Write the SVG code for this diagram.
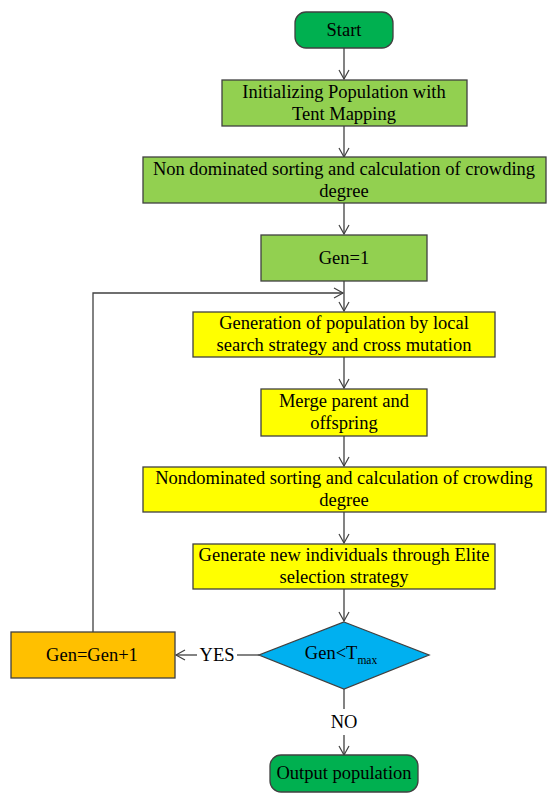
<svg xmlns="http://www.w3.org/2000/svg" width="550" height="799" viewBox="0 0 550 799">
<defs>
<marker id="arr" markerWidth="12" markerHeight="12" refX="10" refY="6" orient="auto" markerUnits="userSpaceOnUse">
<path d="M1,1 L10,6 L1,11" fill="none" stroke="#404040" stroke-width="1.2"/>
</marker>
<style>
text{font-family:"Liberation Serif","Times New Roman",serif;font-size:18.5px;fill:#000;text-anchor:middle;dominant-baseline:central}
.box{stroke:#404040;stroke-width:1.3}
.c{fill:none;stroke:#404040;stroke-width:1.3}
</style>
</defs>
<g id="connectors">
<line class="c" x1="344" y1="48" x2="344" y2="79" marker-end="url(#arr)"/>
<line class="c" x1="344" y1="126" x2="344" y2="157" marker-end="url(#arr)"/>
<line class="c" x1="344" y1="203" x2="344" y2="234" marker-end="url(#arr)"/>
<line class="c" x1="344" y1="281" x2="344" y2="311" marker-end="url(#arr)"/>
<polyline class="c" points="93,632 93,293 343,293" marker-end="url(#arr)"/>
<line class="c" x1="344" y1="357" x2="344" y2="388" marker-end="url(#arr)"/>
<line class="c" x1="344" y1="436" x2="344" y2="466" marker-end="url(#arr)"/>
<line class="c" x1="344" y1="512" x2="344" y2="543" marker-end="url(#arr)"/>
<line class="c" x1="344" y1="589" x2="344" y2="621" marker-end="url(#arr)"/>
<line class="c" x1="259" y1="655" x2="237" y2="655"/>
<line class="c" x1="197" y1="655" x2="176" y2="655" marker-end="url(#arr)"/>
<text x="217" y="655">YES</text>
<line class="c" x1="344" y1="689" x2="344" y2="709"/>
<line class="c" x1="344" y1="735" x2="344" y2="755" marker-end="url(#arr)"/>
<text x="344" y="722">NO</text>
</g>
<g id="start">
<rect class="box" x="295" y="12" width="98" height="36" rx="11" fill="#00B050"/>
<text x="344" y="30">Start</text>
</g>
<g id="init">
<rect class="box" x="222" y="80" width="245" height="46" fill="#92D050"/>
<text x="344" y="92">Initializing Population with</text>
<text x="344" y="114">Tent Mapping</text>
</g>
<g id="sort1">
<rect class="box" x="143" y="157" width="403" height="46" fill="#92D050"/>
<text x="344" y="169">Non dominated sorting and calculation of crowding</text>
<text x="344" y="191">degree</text>
</g>
<g id="gen1">
<rect class="box" x="261" y="235" width="166" height="46" fill="#92D050"/>
<text x="344" y="258">Gen=1</text>
</g>
<g id="generation">
<rect class="box" x="193" y="312" width="302" height="45" fill="#FFFF00"/>
<text x="344" y="323">Generation of population by local</text>
<text x="344" y="345">search strategy and cross mutation</text>
</g>
<g id="merge">
<rect class="box" x="261" y="389" width="166" height="47" fill="#FFFF00"/>
<text x="344" y="401">Merge parent and</text>
<text x="344" y="423">offspring</text>
</g>
<g id="sort2">
<rect class="box" x="143" y="467" width="403" height="45" fill="#FFFF00"/>
<text x="344" y="478">Nondominated sorting and calculation of crowding</text>
<text x="344" y="500">degree</text>
</g>
<g id="elite">
<rect class="box" x="193" y="544" width="302" height="45" fill="#FFFF00"/>
<text x="344" y="555">Generate new individuals through Elite</text>
<text x="344" y="577">selection strategy</text>
</g>
<g id="decision">
<polygon class="box" points="344,622 429,655 344,689 259,655" fill="#00B0F0"/>
<text x="341" y="653">Gen&lt;T<tspan font-size="11.5" dy="7">max</tspan></text>
</g>
<g id="increment">
<rect class="box" x="11" y="632" width="164" height="46" fill="#FFC000"/>
<text x="92" y="655">Gen=Gen+1</text>
</g>
<g id="output">
<rect class="box" x="270" y="755" width="148" height="37" rx="11" fill="#00B050"/>
<text x="344" y="773">Output population</text>
</g>
</svg>
